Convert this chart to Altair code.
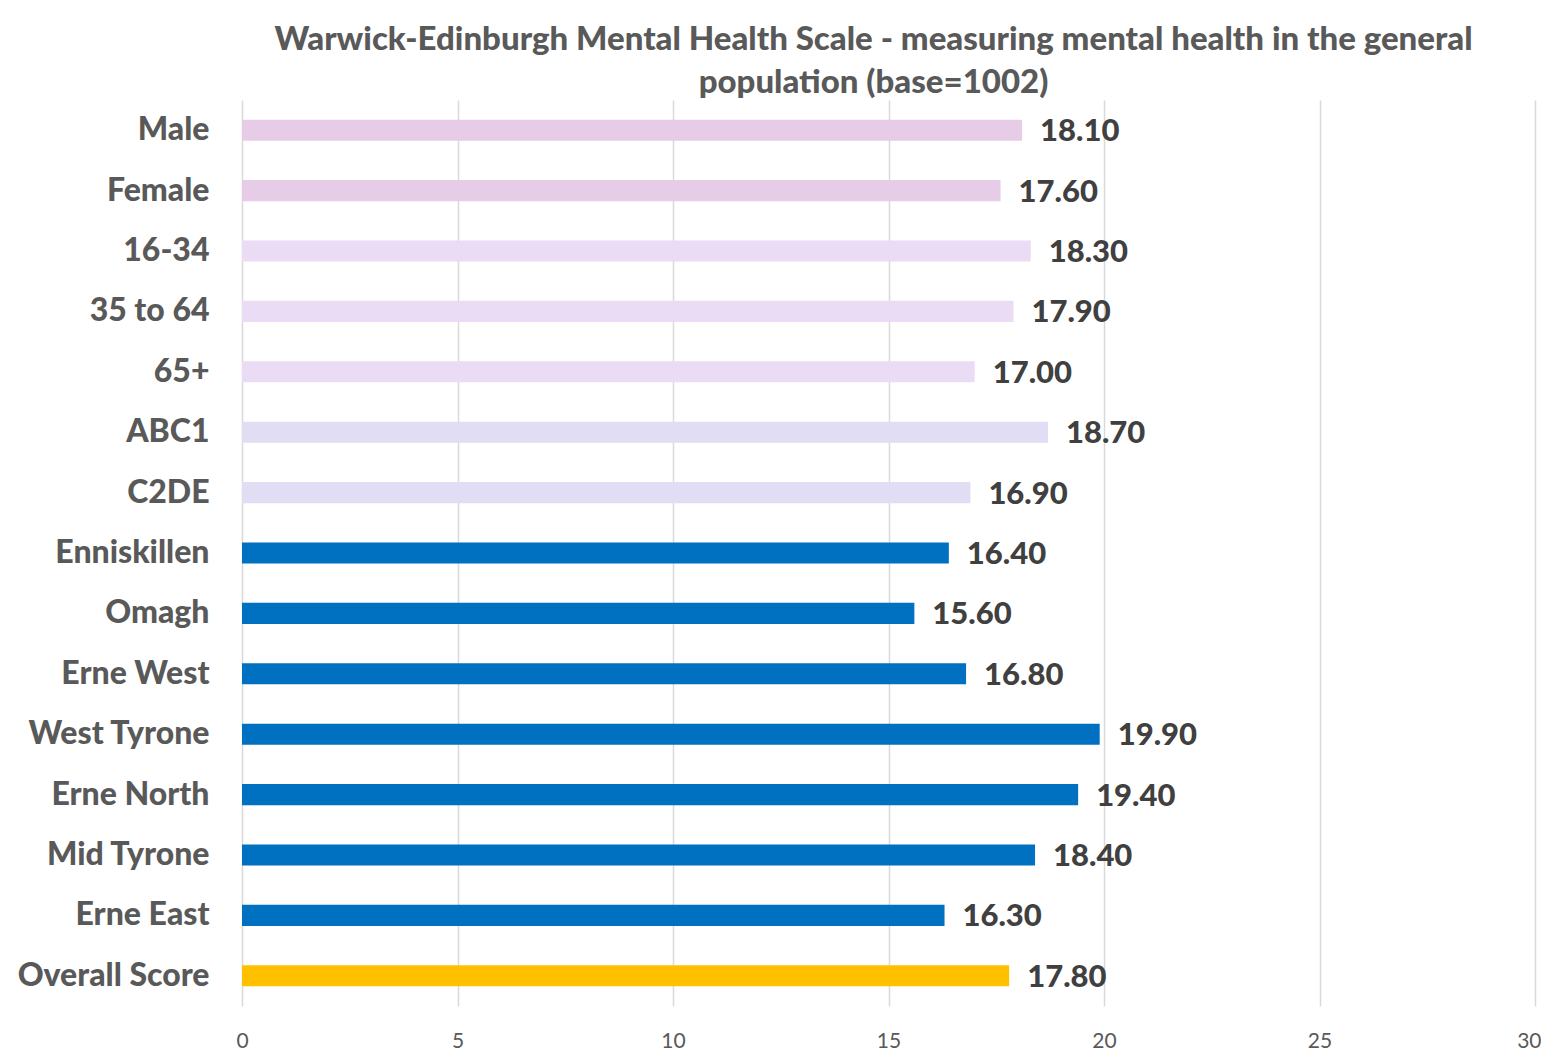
import altair as alt
import pandas as pd

categories = ["Male", "Female", "16-34", "35 to 64", "65+", "ABC1", "C2DE",
              "Enniskillen", "Omagh", "Erne West", "West Tyrone", "Erne North",
              "Mid Tyrone", "Erne East", "Overall Score"]
scores = [18.10, 17.60, 18.30, 17.90, 17.00, 18.70, 16.90,
          16.40, 15.60, 16.80, 19.90, 19.40, 18.40, 16.30, 17.80]
groups = ["Gender", "Gender", "Age", "Age", "Age", "SEG", "SEG",
          "Area", "Area", "Area", "Area", "Area", "Area", "Area", "Overall"]
x_ticks = [0, 5, 10, 15, 20, 25, 30]
title_lines = ["Warwick-Edinburgh Mental Health Scale - measuring mental health in the general",
               "population (base=1002)"]

df = pd.DataFrame({"Category": categories, "Score": scores, "Group": groups})
df["Label"] = df["Score"].map(lambda v: f"{v:.2f}")

FONT = "Lato"

y_enc = alt.Y("Category:N", sort=categories, title=None,
              scale=alt.Scale(paddingInner=0.65, paddingOuter=0.325),
              axis=alt.Axis(labelFont=FONT, labelFontSize=32, labelFontWeight=900,
                            labelColor="#595959", labelPadding=33, ticks=False,
                            labelLimit=400,
                            domain=False, grid=False))
x_enc = alt.X("Score:Q", title=None,
              scale=alt.Scale(domain=[0, 30], nice=False),
              axis=alt.Axis(values=x_ticks, labelFont=FONT, labelFontSize=21,
                            labelColor="#595959", labelPadding=24, ticks=False,
                            labelFlush=False,
                            labelAlign={"condition": {"test": "datum.value == 30", "value": "right"},
                                        "value": "center"},
                            labelOffset={"condition": {"test": "datum.value == 30", "value": 6},
                                         "value": 0},
                            domain=False, grid=True, gridColor="#D9D9D9",
                            gridWidth=1.5))

bars = alt.Chart(df).mark_bar().encode(
    x=x_enc,
    y=y_enc,
    color=alt.Color("Group:N", legend=None,
                    scale=alt.Scale(domain=["Gender", "Age", "SEG", "Area", "Overall"],
                                    range=["#E6CCE6", "#EADCF4", "#E1DDF5", "#0070C0", "#FFC000"])),
)

labels = alt.Chart(df).mark_text(align="left", baseline="middle", dx=18, dy=2,
                                 font=FONT, fontSize=31, fontWeight=900,
                                 color="#404040").encode(
    x="Score:Q",
    y=alt.Y("Category:N", sort=categories),
    text="Label:N",
)

chart = (bars + labels).properties(
    width=1293,
    height=906,
    title=alt.TitleParams(text=title_lines, font=FONT, fontSize=33, fontWeight=900,
                          color="#595959", anchor="middle", baseline="bottom",
                          lineHeight=43, offset=6, dx=-15, dy=39),
    padding={"left": 234, "top": 92, "right": 6, "bottom": 50},
    autosize=alt.AutoSizeParams(type="none"),
    background="white",
).configure_view(stroke=None)

chart.save("out.html", embed_options={"renderer": "svg", "actions": False})
